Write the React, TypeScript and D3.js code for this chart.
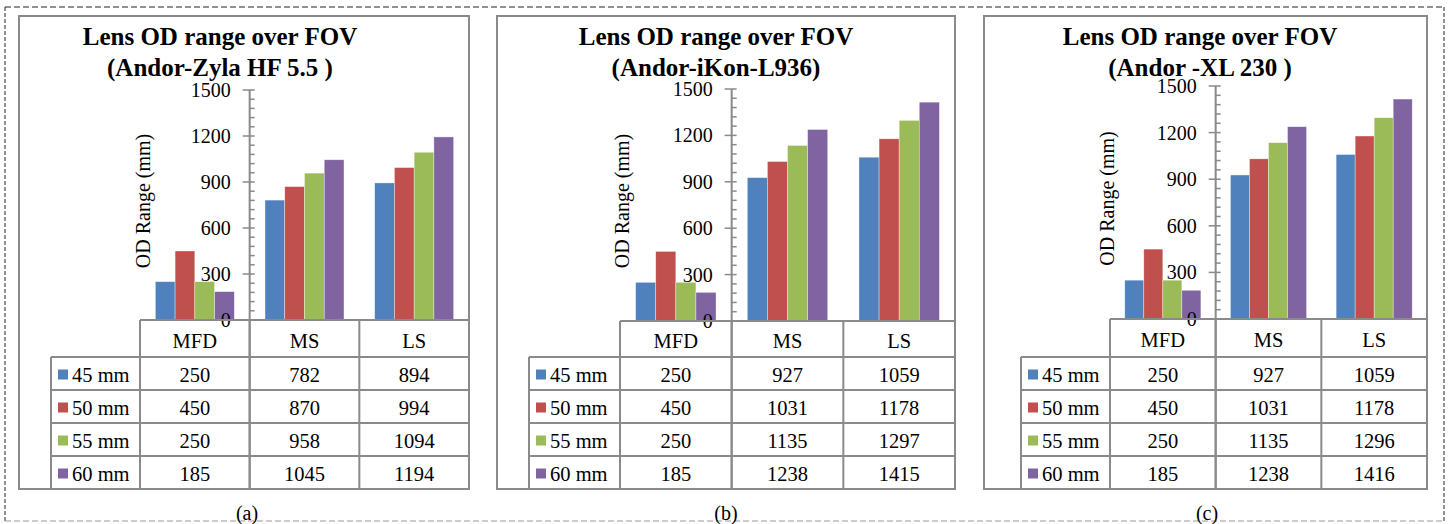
import React from "react";
import * as d3 from "d3";

const categories = ["MFD", "MS", "LS"];
const seriesNames = ["45 mm", "50 mm", "55 mm", "60 mm"];
const seriesColors = ["#4F81BD", "#C0504D", "#9BBB59", "#8064A2"];
const yTicks = [0, 300, 600, 900, 1200, 1500];

// Panel (a) Andor-Zyla HF 5.5
const zyla45 = [250, 782, 894];
const zyla50 = [450, 870, 994];
const zyla55 = [250, 958, 1094];
const zyla60 = [185, 1045, 1194];
// Panel (b) Andor-iKon-L936
const ikon45 = [250, 927, 1059];
const ikon50 = [450, 1031, 1178];
const ikon55 = [250, 1135, 1297];
const ikon60 = [185, 1238, 1415];
// Panel (c) Andor -XL 230
const xl45 = [250, 927, 1059];
const xl50 = [450, 1031, 1178];
const xl55 = [250, 1135, 1296];
const xl60 = [185, 1238, 1416];

const titles = ["(Andor-Zyla HF 5.5 )", "(Andor-iKon-L936)", "(Andor -XL 230 )"];
const captions = ["(a)", "(b)", "(c)"];

const panelData = [
  [zyla45, zyla50, zyla55, zyla60],
  [ikon45, ikon50, ikon55, ikon60],
  [xl45, xl50, xl55, xl60],
];

const layouts = [
  { left: 19, right: 469, legCol: 51, plotLeft: 140, zeroY: 320, topY: 90, titleX: 220, ylabelX: 143, captionX: 247 },
  { left: 497, right: 955, legCol: 529, plotLeft: 620, zeroY: 321, topY: 89, titleX: 716, ylabelX: 622, captionX: 726 },
  { left: 984, right: 1427, legCol: 1021, plotLeft: 1110, zeroY: 319, topY: 86, titleX: 1200, ylabelX: 1107, captionX: 1207 },
];

const FONT = "Liberation Serif, Times New Roman, DejaVu Serif, serif";
const GRID = "#8a8a8a";

function Panel({ idx }: { idx: number }) {
  const L = layouts[idx];
  const data = panelData[idx];
  const top = 16;
  const bottom = 489;
  const headerBottom = 357;
  const rowH = (bottom - headerBottom) / seriesNames.length;

  const x = d3.scaleBand<string>().domain(categories).range([L.plotLeft, L.right]).padding(0);
  const bw = x.bandwidth();
  const inner = d3
    .scaleBand<string>()
    .domain(seriesNames)
    .range([bw * 0.14, bw * 0.86])
    .padding(0);
  const y = d3.scaleLinear().domain([0, 1500]).range([L.zeroY, L.topY]);
  const axisX = L.plotLeft + bw;
  const minorTicks = d3.range(0, 1501, 60).filter((v) => v % 300 !== 0);

  const colEdges = [L.plotLeft, ...categories.map((c) => (x(c) as number) + bw)];

  return (
    <g>
      <rect x={L.left} y={top} width={L.right - L.left} height={bottom - top} fill="#fff" stroke={GRID} strokeWidth={2} />
      <text x={L.titleX} y={45} textAnchor="middle" fontWeight="bold" fontSize={25}>
        Lens OD range over FOV
      </text>
      <text x={L.titleX} y={76} textAnchor="middle" fontWeight="bold" fontSize={25}>
        {titles[idx]}
      </text>
      <text
        transform={`translate(${L.ylabelX},${(L.zeroY + L.topY) / 2 - 4}) rotate(-90)`}
        textAnchor="middle"
        dominantBaseline="central"
        fontSize={20}
      >
        OD Range (mm)
      </text>
      {seriesNames.map((s, si) =>
        categories.map((c, ci) => {
          const v = data[si][ci];
          const bx = (x(c) as number) + (inner(s) as number);
          return (
            <rect
              key={s + c}
              x={bx}
              y={y(v)}
              width={inner.bandwidth()}
              height={L.zeroY - y(v)}
              fill={seriesColors[si]}
              stroke="#ffffff"
              strokeOpacity={0.6}
              strokeWidth={0.6}
            />
          );
        })
      )}
      <line x1={axisX} x2={axisX} y1={y(1500)} y2={bottom} stroke={GRID} strokeWidth={2} />
      {minorTicks.map((v) => (
        <line key={"m" + v} x1={axisX} x2={axisX + 5} y1={y(v)} y2={y(v)} stroke={GRID} strokeWidth={1.5} />
      ))}
      {yTicks.map((v) => (
        <g key={"t" + v}>
          <line x1={axisX - 7} x2={axisX + 5} y1={y(v)} y2={y(v)} stroke={GRID} strokeWidth={1.5} />
          <text x={axisX - 19} y={y(v)} textAnchor="end" dominantBaseline="central" fontSize={20}>
            {v}
          </text>
        </g>
      ))}
      <line x1={L.plotLeft} x2={L.right} y1={L.zeroY} y2={L.zeroY} stroke={GRID} strokeWidth={2} />
      {seriesNames.map((s, i) => (
        <line key={"r" + i} x1={L.legCol} x2={L.right} y1={headerBottom + i * rowH} y2={headerBottom + i * rowH} stroke={GRID} strokeWidth={2} />
      ))}
      <line x1={L.legCol} x2={L.legCol} y1={headerBottom} y2={bottom} stroke={GRID} strokeWidth={2} />
      {colEdges.map((cx, i) => (
        <line key={"c" + i} x1={cx} x2={cx} y1={L.zeroY} y2={bottom} stroke={GRID} strokeWidth={2} />
      ))}
      {categories.map((c) => (
        <text
          key={"h" + c}
          x={(x(c) as number) + bw / 2}
          y={(L.zeroY + headerBottom) / 2 + 2}
          textAnchor="middle"
          dominantBaseline="central"
          fontSize={20.5}
        >
          {c}
        </text>
      ))}
      {seriesNames.map((s, si) => {
        const cy = headerBottom + si * rowH + rowH / 2 + 1;
        return (
          <g key={"row" + s}>
            <rect x={L.legCol + 7} y={cy - 5} width={10} height={10} fill={seriesColors[si]} />
            <text x={L.legCol + 21} y={cy} dominantBaseline="central" fontSize={20.5}>
              {s}
            </text>
            {categories.map((c, ci) => (
              <text
                key={"v" + c}
                x={(x(c) as number) + bw / 2}
                y={cy}
                textAnchor="middle"
                dominantBaseline="central"
                fontSize={20.5}
              >
                {data[si][ci]}
              </text>
            ))}
          </g>
        );
      })}
      <text x={L.captionX} y={513} textAnchor="middle" dominantBaseline="central" fontSize={20}>
        {captions[idx]}
      </text>
    </g>
  );
}

export default function App() {
  return (
    <svg
      width={1451}
      height={524}
      fontFamily={FONT}
      style={{ position: "absolute", left: 0, top: 0, display: "block", background: "#fff", fontFamily: FONT }}
    >
      <rect x={0} y={0} width={1451} height={524} fill="#fff" />
      <line x1={5} x2={1444} y1={7} y2={7} stroke="#222" strokeWidth={1} strokeDasharray="6,3" />
      <line x1={5} x2={5} y1={7} y2={521} stroke="#222" strokeWidth={1} strokeDasharray="4,2" />
      <line x1={1444} x2={1444} y1={7} y2={521} stroke="#222" strokeWidth={1} strokeDasharray="4,2" />
      <line x1={5} x2={1444} y1={521} y2={521} stroke="#999" strokeWidth={1} strokeDasharray="6,3" />
      {[0, 1, 2].map((i) => (
        <Panel key={i} idx={i} />
      ))}
    </svg>
  );
}
